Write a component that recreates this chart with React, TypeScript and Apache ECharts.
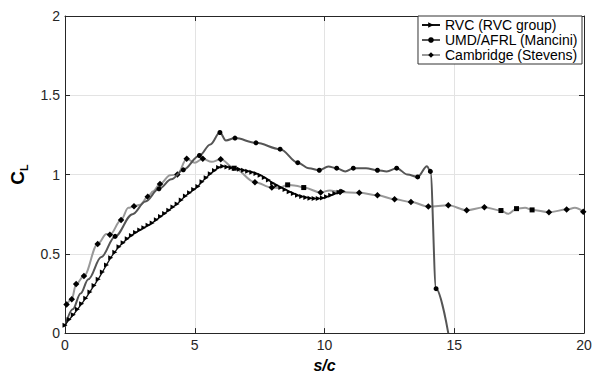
import React, { useEffect, useRef } from "react";
import * as echarts from "echarts";

const xTicks = [0, 5, 10, 15, 20];
const yTicks = [0, 0.5, 1, 1.5, 2];
const seriesNames = ["RVC (RVC group)", "UMD/AFRL (Mancini)", "Cambridge (Stevens)"];

// RVC (RVC group): every point carries a triangle marker
const rvcX = [
  0, 0.16, 0.32, 0.48, 0.64, 0.8, 0.96, 1.12, 1.28, 1.44, 1.6, 1.76, 1.92, 2.08, 2.24, 2.4, 2.56, 2.72,
  2.88, 3.04, 3.2, 3.36, 3.52, 3.68, 3.84, 4.0, 4.16, 4.32, 4.48, 4.64, 4.8, 4.96, 5.12, 5.28, 5.44,
  5.6, 5.76, 5.92, 6.08, 6.24, 6.4, 6.56, 6.72, 6.88, 7.04, 7.2, 7.36, 7.52, 7.68, 7.84, 8.0, 8.16,
  8.32, 8.48, 8.64, 8.8, 8.96, 9.12, 9.28, 9.44, 9.6, 9.76, 9.92, 10.08, 10.24, 10.4, 10.56, 10.72,
];
const rvcY = [
  0.05, 0.085, 0.115, 0.15, 0.185, 0.22, 0.26, 0.3, 0.34, 0.385, 0.43, 0.475, 0.51, 0.545, 0.57, 0.595,
  0.615, 0.635, 0.65, 0.665, 0.68, 0.695, 0.715, 0.735, 0.755, 0.775, 0.795, 0.815, 0.84, 0.865, 0.885,
  0.905, 0.925, 0.955, 0.98, 1.005, 1.025, 1.045, 1.052, 1.048, 1.043, 1.038, 1.033, 1.027, 1.021,
  1.015, 1.006, 0.996, 0.982, 0.965, 0.946, 0.932, 0.918, 0.905, 0.892, 0.88, 0.869, 0.862, 0.856,
  0.851, 0.849, 0.849, 0.852, 0.86, 0.87, 0.88, 0.888, 0.895,
];

// UMD/AFRL (Mancini): marker points and extra curve points
const umdMarkX = [1.93, 3.62, 4.56, 5.18, 5.97, 6.55, 7.36, 8.29, 8.97, 9.8, 10.47, 11.11, 12.04, 12.78, 13.59, 14.08, 14.3];
const umdMarkY = [0.61, 0.91, 1.03, 1.12, 1.265, 1.23, 1.2, 1.16, 1.075, 1.027, 1.04, 1.04, 1.027, 1.04, 0.985, 1.02, 0.28];
const umdCurveX = [0, 0.3, 0.6, 0.9, 1.4, 2.6, 3.1, 4.1, 5.6, 6.2, 9.4, 10.15, 10.8, 11.6, 12.4, 13.2, 13.95, 14.77];
const umdCurveY = [0.04, 0.15, 0.25, 0.34, 0.48, 0.75, 0.83, 0.97, 1.19, 1.215, 1.04, 1.05, 1.02, 1.04, 1.02, 1.0, 1.052, 0];

// Cambridge (Stevens)
const camMarkX = [
  0.06, 0.26, 0.43, 0.73, 1.26, 1.73, 2.16, 2.66, 3.19, 3.66, 4.33, 4.69, 5.31, 6.0, 6.52, 7.32, 7.97,
  8.58, 9.2, 9.85, 10.6, 11.34, 12.04, 12.7, 13.33, 14.0, 14.77, 15.48, 16.16, 16.8, 17.4, 18.0, 18.65,
  19.33, 19.97,
];
const camMarkY = [
  0.18, 0.214, 0.31, 0.36, 0.5625, 0.62, 0.714, 0.8, 0.86, 0.94, 1.0, 1.1, 1.1, 1.096, 1.04, 0.952, 0.918,
  0.935, 0.918, 0.8875, 0.89, 0.885, 0.869, 0.844, 0.827, 0.798, 0.806, 0.775, 0.794, 0.773, 0.785, 0.777,
  0.7625, 0.779, 0.765,
];
const camSquareX = [6.52, 8.58, 9.2, 16.8, 17.4, 18.0];
const camCurveX = [1.6, 2.44, 2.9, 3.4, 4.05, 5.0, 5.65, 8.25, 8.9, 10.2, 17.08, 17.73, 19.65];
const camCurveY = [0.625, 0.79, 0.81, 0.895, 0.996, 1.075, 1.08, 0.915, 0.93, 0.9, 0.752, 0.79, 0.79];

type Pt = { value: number[]; symbol?: string; symbolSize?: number };

function merge(mx: number[], my: number[], cx: number[], cy: number[], squares: number[] = []): Pt[] {
  const pts: Pt[] = [];
  mx.forEach((x, i) => {
    const p: Pt = { value: [x, my[i]] };
    if (squares.includes(x)) {
      p.symbol = "rect";
      p.symbolSize = 5;
    }
    pts.push(p);
  });
  cx.forEach((x, i) => pts.push({ value: [x, cy[i]], symbol: "none" }));
  pts.sort((a, b) => a.value[0] - b.value[0]);
  return pts;
}

const FONT = "Liberation Sans, Arial, sans-serif";
const AX = "#262626";

function axisPair(ticks: number[], dim: "x" | "y") {
  const min = ticks[0];
  const max = ticks[ticks.length - 1];
  const interval = ticks[1] - ticks[0];
  const main: any = {
    type: "value",
    min,
    max,
    interval,
    position: dim === "x" ? "bottom" : "left",
    axisLine: { show: true, onZero: false, lineStyle: { color: AX, width: 1 } },
    axisTick: { show: true, inside: true, length: 5, lineStyle: { color: AX } },
    axisLabel: {
      color: AX,
      fontSize: 14,
      fontFamily: FONT,
      margin: 5,
      formatter: (v: number) => String(v),
    },
    splitLine: { show: true, lineStyle: { color: "#e3e3e3", width: 1 } },
  };
  const mirror: any = {
    type: "value",
    min,
    max,
    interval,
    position: dim === "x" ? "top" : "right",
    axisLine: { show: true, onZero: false, lineStyle: { color: AX, width: 1 } },
    axisTick: { show: true, inside: true, length: 5, lineStyle: { color: AX } },
    axisLabel: { show: false },
    splitLine: { show: false },
  };
  return [main, mirror];
}

export default function App() {
  const ref = useRef<HTMLDivElement>(null);
  useEffect(() => {
    if (!ref.current) return;
    const chart = echarts.init(ref.current, undefined, { renderer: "svg" });
    const [xMain, xMirror] = axisPair(xTicks, "x");
    const [yMain, yMirror] = axisPair(yTicks, "y");
    xMain.name = "s/c";
    xMain.nameLocation = "middle";
    xMain.nameGap = 21;
    xMain.nameTextStyle = { fontWeight: "bold", fontStyle: "italic", fontSize: 16, color: "#000", fontFamily: FONT };
    yMain.name = "{c|C}{l|L}";
    yMain.nameLocation = "middle";
    yMain.nameGap = 28;
    yMain.nameTextStyle = {
      color: "#000",
      fontFamily: FONT,
      rich: {
        c: { fontSize: 19, fontWeight: "bold", fontFamily: FONT, color: "#000", lineHeight: 24, verticalAlign: "middle" },
        l: { fontSize: 11, fontWeight: "bold", fontFamily: FONT, color: "#000", lineHeight: 24, verticalAlign: "bottom" },
      },
    };
    const option: any = {
      animation: false,
      backgroundColor: "#fff",
      grid: { left: 65, right: 21, top: 16, bottom: 42, containLabel: false },
      xAxis: [xMain, xMirror],
      yAxis: [yMain, yMirror],
      legend: {
        data: seriesNames,
        orient: "vertical",
        right: 23,
        top: 16,
        backgroundColor: "#fff",
        borderColor: "#333",
        borderWidth: 1,
        borderRadius: 0,
        padding: [2, 4, 2, 3],
        itemGap: 1,
        itemWidth: 18,
        itemHeight: 7,
        textStyle: { fontSize: 14, color: "#000", fontFamily: FONT },
      },
      series: [
        {
          name: seriesNames[0],
          type: "line",
          smooth: 0.3,
          data: rvcX.map((x, i) => [x, rvcY[i]]),
          symbol: "triangle",
          symbolRotate: -90,
          symbolSize: 5,
          showSymbol: true,
          lineStyle: { color: "#111", width: 1.3 },
          itemStyle: { color: "#000" },
          z: 4,
        },
        {
          name: seriesNames[1],
          type: "line",
          smooth: 0.35,
          smoothMonotone: "x",
          data: merge(umdMarkX, umdMarkY, umdCurveX, umdCurveY),
          symbol: "circle",
          symbolSize: 5,
          showSymbol: true,
          lineStyle: { color: "#555", width: 2 },
          itemStyle: { color: "#000" },
          z: 3,
        },
        {
          name: seriesNames[2],
          type: "line",
          smooth: 0.35,
          smoothMonotone: "x",
          data: merge(camMarkX, camMarkY, camCurveX, camCurveY, camSquareX),
          symbol: "diamond",
          symbolSize: 6.5,
          showSymbol: true,
          lineStyle: { color: "#999", width: 2 },
          itemStyle: { color: "#000" },
          z: 2,
        },
      ],
    };
    chart.setOption(option);
    return () => chart.dispose();
  }, []);
  return (
    <div
      ref={ref}
      style={{ position: "fixed", left: 0, top: 0, width: 605, height: 378, background: "#fff" }}
    />
  );
}
